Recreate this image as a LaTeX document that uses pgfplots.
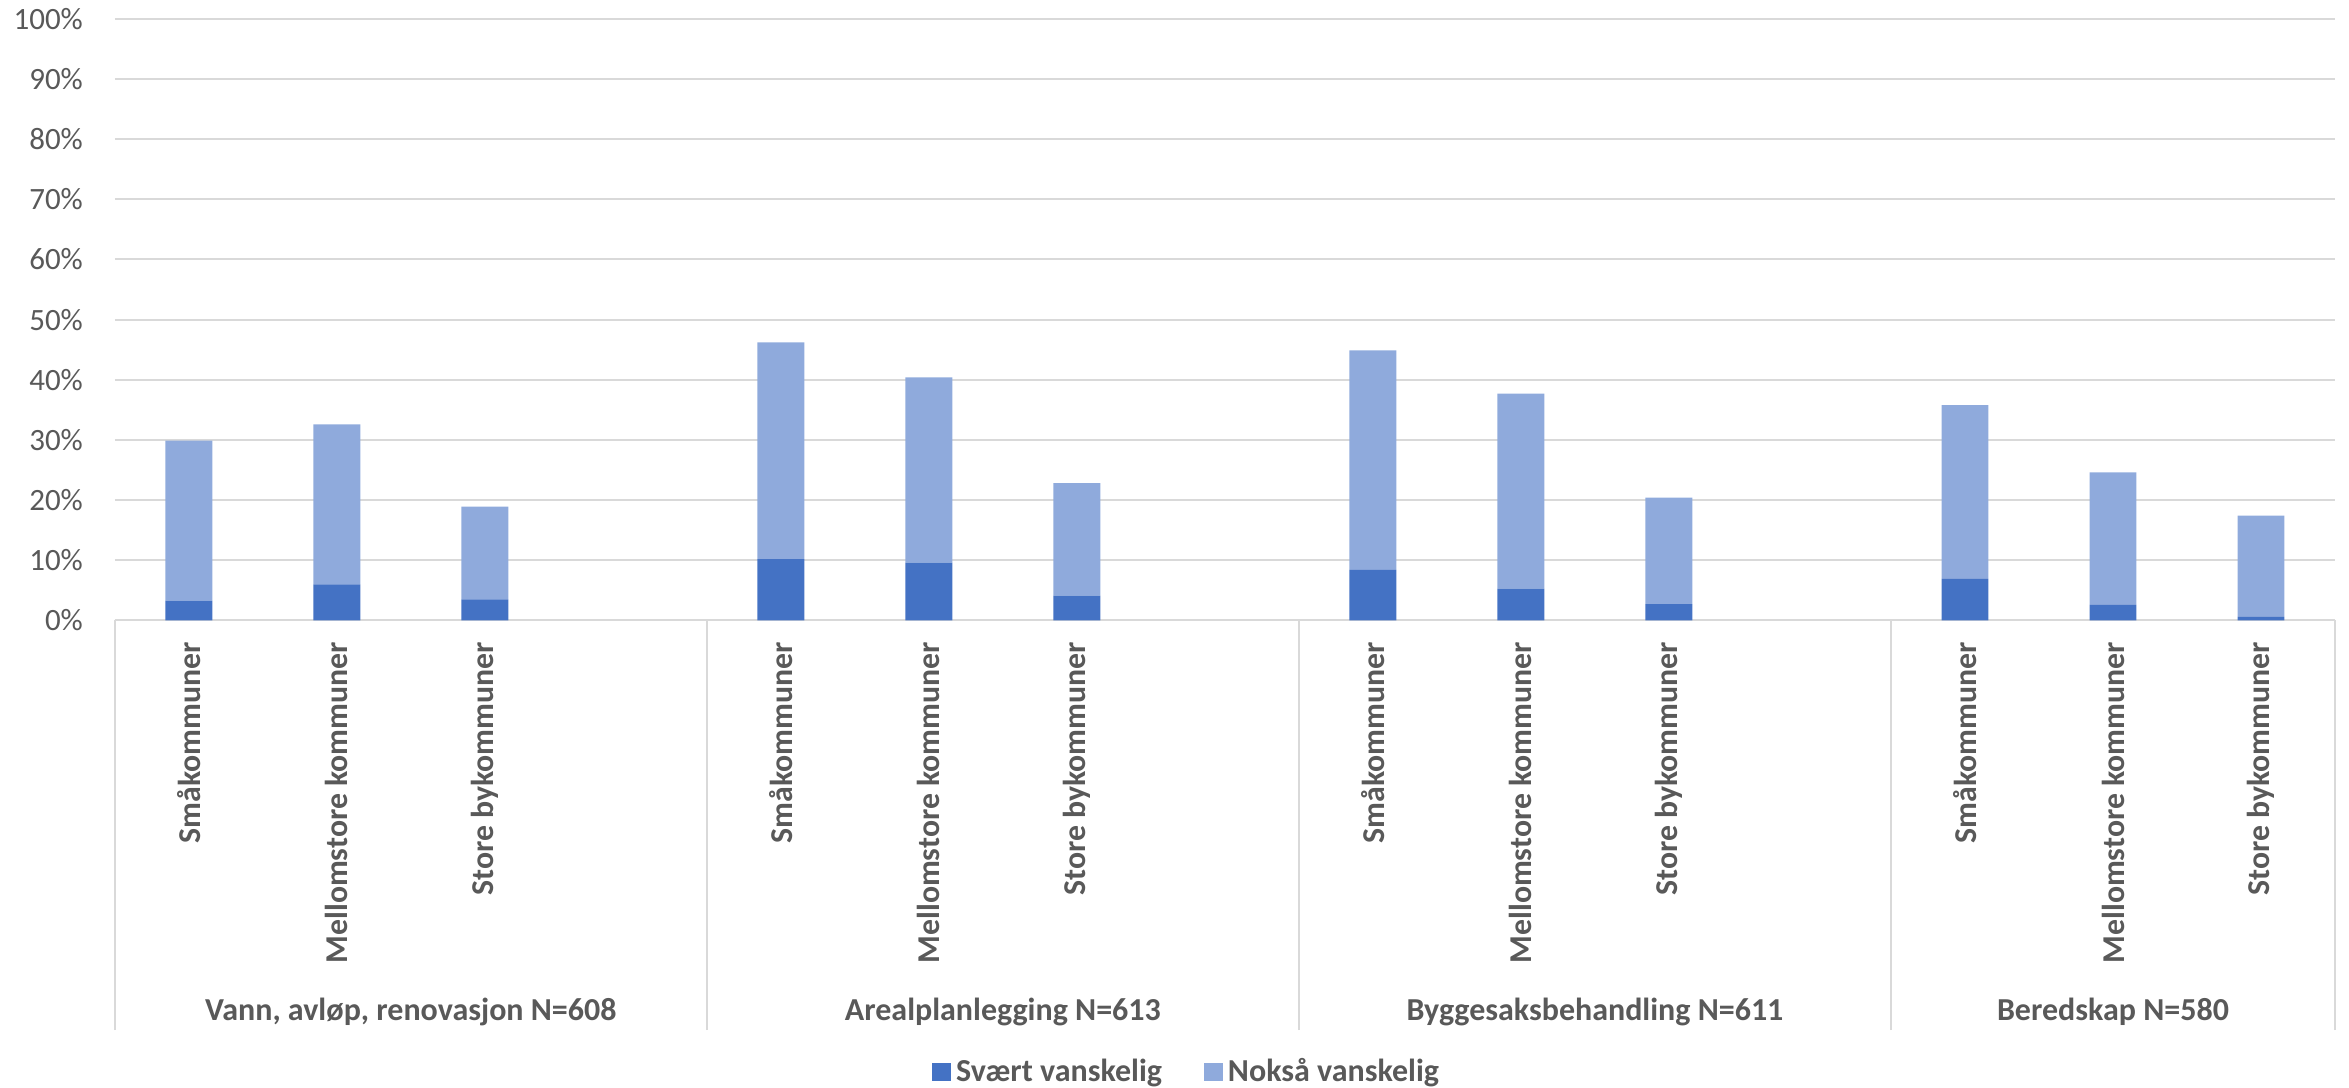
\documentclass[border=0pt]{standalone}
\usepackage{fontspec}
\setmainfont{Carlito}
\usepackage{pgfplots}
\pgfplotsset{compat=1.18}
\definecolor{dark}{HTML}{4472C4}
\definecolor{light}{HTML}{8FAADC}
\definecolor{gridc}{HTML}{D9D9D9}
\definecolor{txt}{HTML}{595959}
\begin{document}
\begin{tikzpicture}
\useasboundingbox (-57.4pt,-233.3pt) rectangle (1117.1pt,310.2pt);
\begin{axis}[
  at={(0,0)}, anchor=south west,
  scale only axis, width=1110.1pt, height=300.8pt,
  ybar stacked, bar width=0.317,
  xmin=-0.5, xmax=14.5, ymin=0, ymax=100,
  enlargelimits=false, clip=false,
  axis line style={draw=none},
  major tick length=0pt,
  xtick pos=bottom, ytick pos=left,
  ytick={0,10,...,100},
  yticklabels={0\%,10\%,20\%,30\%,40\%,50\%,60\%,70\%,80\%,90\%,100\%},
  yticklabel style={font=\fontsize{15.5}{18}\selectfont, text=txt, anchor=east, inner sep=0pt, xshift=-15.75pt},
  ymajorgrids, major grid style={draw=gridc, line width=1pt},
  xtick={0,1,2,4,5,6,8,9,10,12,13,14},
  xticklabels={Småkommuner,Mellomstore kommuner,Store bykommuner,Småkommuner,Mellomstore kommuner,Store bykommuner,Småkommuner,Mellomstore kommuner,Store bykommuner,Småkommuner,Mellomstore kommuner,Store bykommuner},
  xticklabel style={font=\bfseries\fontsize{15.9}{18}\selectfont, text=txt, yshift=-10.65pt, rotate=90, anchor=east, inner sep=0pt},
  extra x ticks={-0.5,3.5,7.5,11.5,14.5},
  extra x tick labels={},
  extra x tick style={major tick length=204.8pt, tick align=outside, major tick style={draw=gridc, line width=1pt}, xmajorgrids=false},
  legend style={at={(0.4823,-0.75)}, anchor=center, draw=none, fill=none, legend columns=2,
    font=\bfseries\fontsize{16}{19}\selectfont, text=txt, inner sep=0pt,
    nodes={inner sep=0pt},
    /tikz/every even column/.append style={column sep=21pt}},
]
\addplot[fill=dark, draw=none, legend image code/.code={\fill[dark] (0pt,-4.5pt) rectangle (9.5pt,4.5pt); \path (12pt,0pt);}]
  coordinates {(0,3.3) (1,6.0) (2,3.5) (4,10.2) (5,9.6) (6,4.1) (8,8.4) (9,5.3) (10,2.7) (12,6.9) (13,2.6) (14,0.6)};
\addlegendentry{Svært vanskelig}
\addplot[fill=light, draw=none, legend image code/.code={\fill[light] (0pt,-4.5pt) rectangle (9.5pt,4.5pt); \path (12pt,0pt);}]
  coordinates {(0,26.6) (1,26.6) (2,15.4) (4,36.0) (5,30.8) (6,18.7) (8,36.5) (9,32.4) (10,17.7) (12,28.9) (13,22.0) (14,16.8)};
\addlegendentry{Nokså vanskelig}
\node[font=\bfseries\fontsize{16}{19}\selectfont, text=txt, anchor=base, inner sep=0pt] at ([yshift=-199.8pt]axis cs:1.5,0) {Vann, avløp, renovasjon N=608};
\node[font=\bfseries\fontsize{16}{19}\selectfont, text=txt, anchor=base, inner sep=0pt] at ([yshift=-199.8pt]axis cs:5.5,0) {Arealplanlegging N=613};
\node[font=\bfseries\fontsize{16}{19}\selectfont, text=txt, anchor=base, inner sep=0pt] at ([yshift=-199.8pt]axis cs:9.5,0) {Byggesaksbehandling N=611};
\node[font=\bfseries\fontsize{16}{19}\selectfont, text=txt, anchor=base, inner sep=0pt] at ([yshift=-199.8pt]axis cs:13,0) {Beredskap N=580};
\end{axis}
\end{tikzpicture}
\end{document}
